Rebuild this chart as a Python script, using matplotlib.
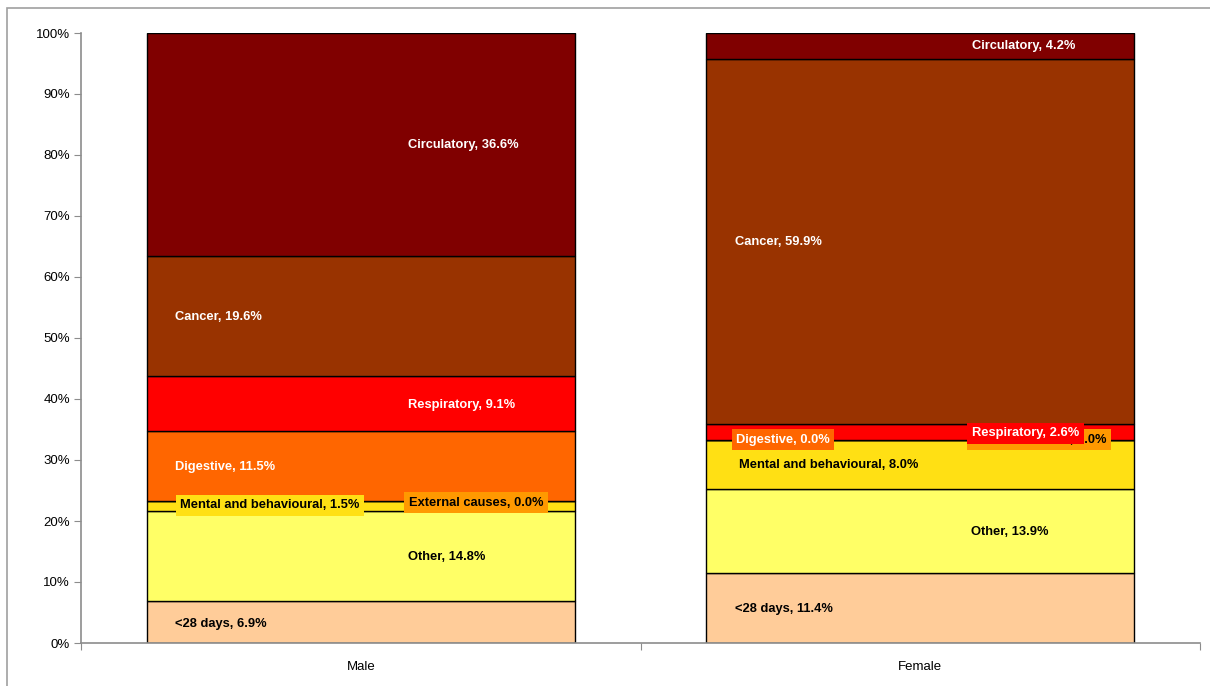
import matplotlib
matplotlib.use("Agg")
import matplotlib.pyplot as plt
from matplotlib.patches import Rectangle
from matplotlib import font_manager

# ---- data ----
groups = ["Male", "Female"]
causes = ["<28 days", "Other", "Mental and behavioural", "External causes",
          "Digestive", "Respiratory", "Cancer", "Circulatory"]
male_vals = [6.9, 14.8, 1.5, 0.0, 11.5, 9.1, 19.6, 36.6]
female_vals = [11.4, 13.9, 8.0, 0.0, 0.0, 2.6, 59.9, 4.2]
y_ticks = [0, 10, 20, 30, 40, 50, 60, 70, 80, 90, 100]

# ---- style ----
colors = ["#FFCC99", "#FFFF66", "#FFE014", "#FF9900",
          "#FF6600", "#FF0000", "#993300", "#800000"]
text_colors = ["black", "black", "black", "black", "white", "white", "white", "white"]

avail = {f.name for f in font_manager.fontManager.ttflist}
fam = "Liberation Sans Narrow" if "Liberation Sans Narrow" in avail else "Liberation Sans"
plt.rcParams["font.family"] = [fam, "DejaVu Sans"]

fig = plt.figure(figsize=(12.1, 6.86), dpi=100)
ax = fig.add_axes([81/1210, 1-643/686, (1200-81)/1210, (643-33)/686])

# outer chart border
fig.patches.append(Rectangle((7/1210, -0.1), 1.2, 1-8/686+0.1, transform=fig.transFigure,
                             fill=False, edgecolor="#A0A0A0", lw=1.2))

xs = [0, 1]
width = 0.765
bottoms = [0.0, 0.0]
for i, cause in enumerate(causes):
    vals = [male_vals[i], female_vals[i]]
    ax.bar(xs, vals, width, bottom=bottoms, color=colors[i],
           edgecolor="black", linewidth=1.0, zorder=2)
    bottoms = [bottoms[0] + vals[0], bottoms[1] + vals[1]]

# label layout: (x, y, boxed)
male_pos = {
    "<28 days": (-0.332, 3.1, False),
    "Other": (0.0845, 14.1, False),
    "Mental and behavioural": (-0.323, 22.6, True),
    "External causes": (0.086, 23.0, True),
    "Digestive": (-0.332, 28.9, False),
    "Respiratory": (0.0845, 39.0, False),
    "Cancer": (-0.332, 53.4, False),
    "Circulatory": (0.0845, 81.6, False),
}
female_pos = {
    "<28 days": (0.669, 5.6, False),
    "Other": (1.09, 18.2, False),
    "Mental and behavioural": (0.676, 29.2, False),
    "External causes": (1.0925, 33.3, True),
    "Digestive": (0.671, 33.3, True),
    "Respiratory": (1.0925, 34.4, True),
    "Cancer": (0.669, 65.7, False),
    "Circulatory": (1.0925, 97.9, True),
}

for vals, pos in ((male_vals, male_pos), (female_vals, female_pos)):
    for i, cause in enumerate(causes):
        x, y, boxed = pos[cause]
        kw = {}
        if boxed:
            kw["bbox"] = dict(boxstyle="square,pad=0.35", facecolor=colors[i],
                              edgecolor="none")
        ax.text(x, y, f"{cause}, {vals[i]:.1f}%", ha="left", va="center",
                fontsize=9.3, fontweight="bold", color=text_colors[i],
                zorder=5, **kw)

ax.set_xlim(-0.5, 1.5)
ax.set_ylim(0, 100)
ax.set_yticks(y_ticks)
ax.set_yticklabels([f"{t}%" for t in y_ticks], fontsize=9.5)
ax.set_xticks([-0.5, 0.5, 1.5])
ax.set_xticklabels([])
ax.set_xticks(xs, minor=True)
ax.set_xticklabels(groups, minor=True, fontsize=9.5)
ax.tick_params(axis="x", which="minor", length=0, pad=13)
ax.tick_params(axis="x", which="major", length=5, color="#8C8C8C", direction="out")
ax.tick_params(axis="y", length=5, color="#8C8C8C", direction="out", pad=3)
for s in ("top", "right"):
    ax.spines[s].set_visible(False)
for s in ("left", "bottom"):
    ax.spines[s].set_color("#8C8C8C")
    ax.spines[s].set_linewidth(1.2)

fig.savefig("out.png", dpi=100)
